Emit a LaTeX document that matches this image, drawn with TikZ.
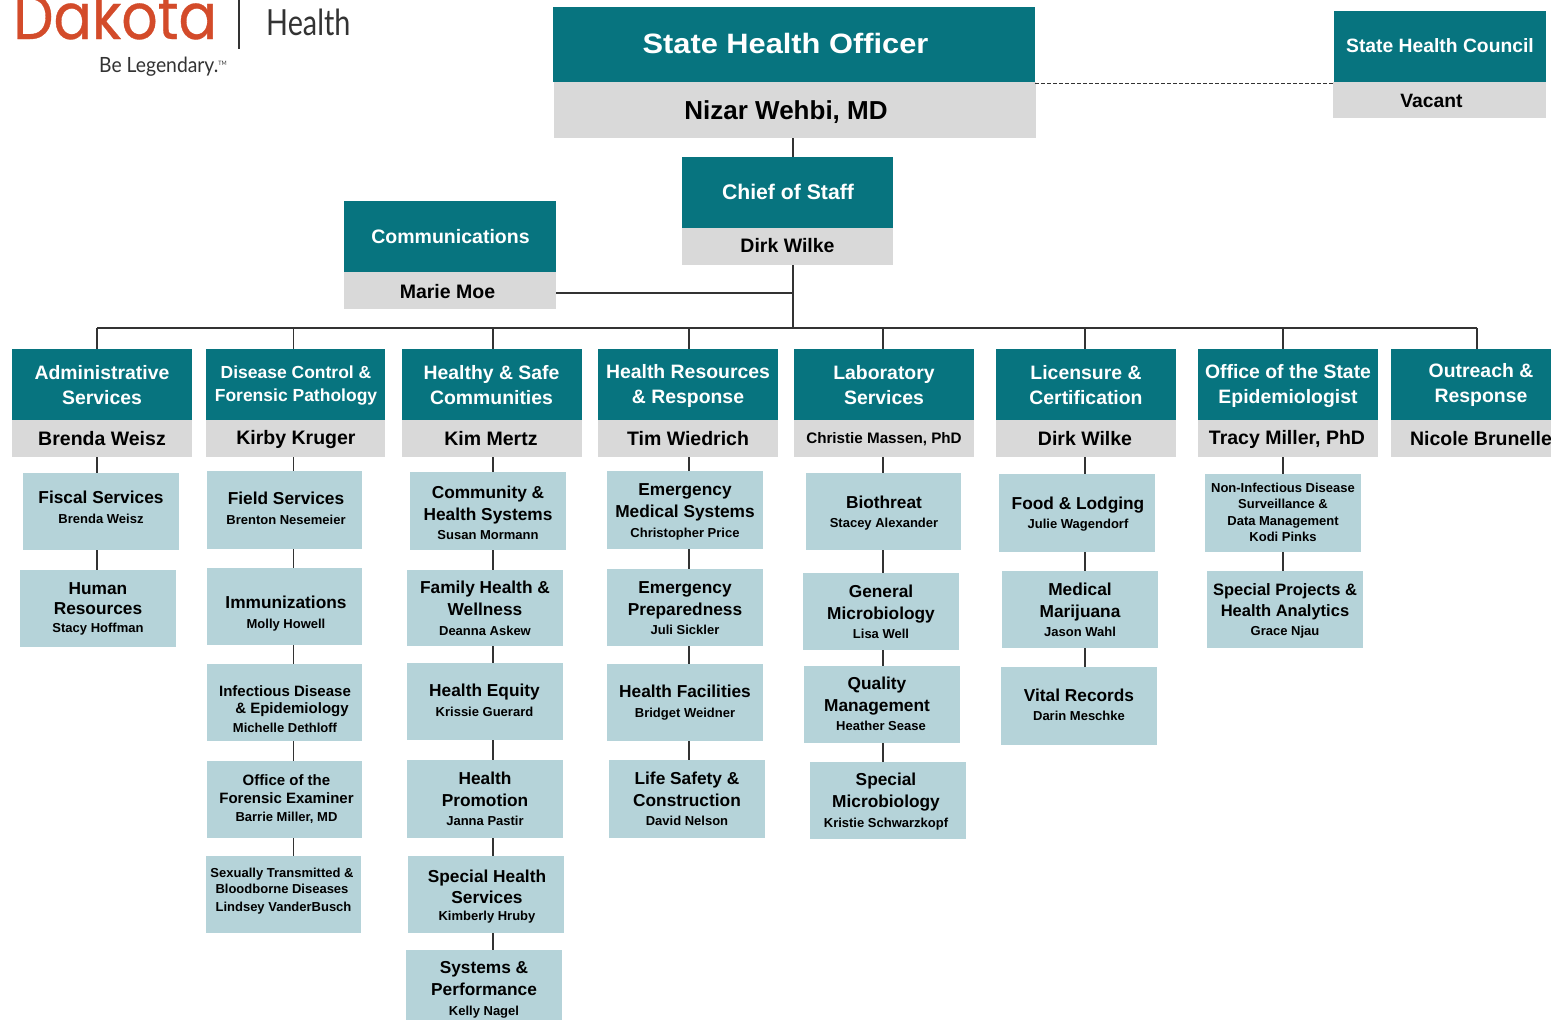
\documentclass[tikz,border=0pt]{standalone}
\usepackage{fontspec}
\usetikzlibrary{fit}
\setmainfont{Liberation Sans}
\newfontfamily\widefont[FakeStretch=1.1]{Liberation Sans}
\newfontfamily\logofont[FakeStretch=0.89,FakeBold=0.5]{Poppins}
\newfontfamily\logothin[FakeStretch=0.8]{Lato}
\newfontfamily\logotag[FakeStretch=0.92]{Lato}
\definecolor{tealhd}{HTML}{07747F}
\definecolor{grayhd}{HTML}{D9D9D9}
\definecolor{lightbx}{HTML}{B5D3D9}
\definecolor{conncol}{HTML}{333333}
\definecolor{dakota}{HTML}{D34B2A}
\newcommand\fz[2]{\fontsize{#1}{#2}\selectfont\spaceskip=0pt\relax}
\newcommand\bx[9]{%
  \node[#8,fit={(#2,#3)(#4,#5)}] (#1) {};
  \node[#8t] (#1t) at (#6,#7) {#9\par};}
\newcommand\vl[3]{%
  \coordinate (cx) at (#3,0);
  \draw[conn] (#1.south -| cx) -- (#2.north -| cx);}
\newcommand\lb{\\\fz{17.3}{22}}
\newcommand\lm{\\\fz{15}{17.5}}
\newcommand\lt{\\\fz{19.4}{25}}
\newcommand\ld{\\\fz{17.5}{23}}
\newcommand\ls{\\\fz{13}{16.5}}
\newcommand\sub[2]{\fz{17.3}{22}#1\\\fz{13}{19.5}#2}
\newcommand\subm[2]{\fz{15}{17.5}#1\\\fz{13}{18.5}#2}
\newcommand\tl[1]{\fz{19.4}{25}#1}
\newcommand\nm[1]{\fz{19.5}{22}#1}
\tikzset{
  tealb/.style={fill=tealhd,draw=none,inner sep=0pt,outer sep=0pt},
  grayb/.style={fill=grayhd,draw=none,inner sep=0pt,outer sep=0pt},
  lightb/.style={fill=lightbx,draw=none,inner sep=0pt,outer sep=0pt},
  tealbt/.style={text=white,font=\bfseries,align=flush center,inner sep=0pt,text width=320pt},
  graybt/.style={text=black,font=\bfseries,align=flush center,inner sep=0pt,text width=320pt},
  lightbt/.style={text=black,font=\bfseries,align=flush center,inner sep=0pt,text width=320pt},
  conn/.style={draw=conncol,line width=1.2pt},
  dashconn/.style={draw=conncol,line width=1.1pt,dash pattern=on 4pt off 2pt},
  logotext/.style={inner sep=0pt,anchor=base west}
}
\begin{document}
\begin{tikzpicture}[x=1pt,y=-1pt]
\useasboundingbox (0,0) rectangle (1551,1020);
\clip (0,0) rectangle (1551,1020);
% logo
\node[logotext,text=dakota] (logoa) at (13,39) {\logofont\fz{64}{64}Dakota};
\coordinate (logotop) at (239,0);
\coordinate (logobot) at (239,49);
\draw[draw=conncol,line width=1.4pt] (logotop) -- (logobot);
\node[logotext,text=conncol] (logob) at (266,35) {\logothin\fz{36}{36}Health};
\node[logotext,text=conncol] (logoc) at (99,72) {\logotag\fz{21}{21}Be Legendary.\raisebox{7pt}{\fz{6}{6}TM}};
% top
\bx{sho}{553}{7}{1035}{82}{785.5}{43}{tealb}{\widefont\fz{28}{30}State Health Officer}
\bx{shon}{554}{82}{1036}{138}{786}{112}{grayb}{\fz{26}{28}Nizar Wehbi, MD}
\bx{shc}{1333.5}{11}{1546}{82}{1440}{46}{tealb}{\fz{19.3}{22}State Health Council}
\bx{shcn}{1333}{82}{1546}{118}{1431.5}{100.5}{grayb}{\fz{19.3}{22}Vacant}
\bx{cos}{682}{157}{893}{228}{788}{192}{tealb}{\fz{21.2}{24}Chief of Staff}
\bx{cosn}{682}{228}{893}{265}{787.5}{246}{grayb}{\nm{Dirk Wilke}}
\bx{com}{344}{201}{556}{272}{450.5}{237}{tealb}{\fz{19.5}{24}Communications}
\bx{comn}{344}{272}{556}{309}{447.5}{291.5}{grayb}{\nm{Marie Moe}}
% heads
\bx{h1}{12}{349}{192}{420}{102}{385.5}{tealb}{\tl{Administrative\lt Services}}
\bx{h1n}{12}{420}{192}{457}{102}{438.5}{grayb}{\nm{Brenda Weisz}}
\bx{h2}{206}{349}{385}{420}{296}{385.5}{tealb}{\fz{17.5}{23}Disease Control \&\ld Forensic Pathology}
\bx{h2n}{206}{420}{385}{457}{296}{439.5}{grayb}{\nm{Kirby Kruger}}
\bx{h3}{402}{349}{582}{420}{491.5}{385}{tealb}{\tl{Healthy \& Safe\lt Communities}}
\bx{h3n}{402}{420}{582}{457}{491}{438.5}{grayb}{\nm{Kim Mertz}}
\bx{h4}{598}{349}{778}{420}{688}{386}{tealb}{\tl{Health Resources\lt \& Response}}
\bx{h4n}{598}{420}{778}{457}{688}{438.5}{grayb}{\nm{Tim Wiedrich}}
\bx{h5}{794}{349}{974}{420}{884}{385}{tealb}{\tl{Laboratory\lt Services}}
\bx{h5n}{794}{420}{974}{457}{884}{439.5}{grayb}{\fz{15.2}{18}Christie Massen, PhD}
\bx{h6}{996}{349}{1176}{420}{1086}{385.5}{tealb}{\tl{Licensure \&\lt Certification}}
\bx{h6n}{996}{420}{1176}{457}{1085}{438.5}{grayb}{\nm{Dirk Wilke}}
\bx{h7}{1198}{349}{1378}{420}{1288}{386}{tealb}{\tl{Office of the State\lt Epidemiologist}}
\bx{h7n}{1198}{420}{1378}{457}{1287}{439.5}{grayb}{\nm{Tracy Miller, PhD}}
\bx{h8}{1391}{349}{1551}{420}{1481}{385}{tealb}{\tl{Outreach \&\lt Response}}
\bx{h8n}{1391}{420}{1551}{457}{1481}{438.5}{grayb}{\nm{Nicole Brunelle}}
% col 1
\bx{a1}{23}{473}{179}{550}{101}{507.5}{lightb}{\sub{Fiscal Services}{Brenda Weisz}}
\bx{a2}{20}{570}{176}{647}{98}{609}{lightb}{\fz{17.3}{20}Human\\\fz{17.3}{20}Resources\\\fz{13}{17.5}Stacy Hoffman}
% col 2
\bx{b1}{207}{471}{362}{549}{286}{508.5}{lightb}{\sub{Field Services}{Brenton Nesemeier}}
\bx{b2}{207}{568}{362}{645}{286}{613.5}{lightb}{\sub{Immunizations}{Molly Howell}}
\bx{b3}{207}{664}{362}{741}{285}{709}{lightb}{\subm{Infectious Disease\lm\hspace*{14pt}\& Epidemiology}{Michelle Dethloff}}
\bx{b4}{207}{761}{362}{838}{286.5}{799.5}{lightb}{\subm{Office of the\lm Forensic Examiner}{Barrie Miller, MD}}
\bx{b5}{206}{856}{361}{933}{282}{891.5}{lightb}{\fz{13}{16}Sexually Transmitted \&\\\fz{13}{16}Bloodborne Diseases\\\fz{13}{18}\hspace*{3pt}Lindsey VanderBusch}
% col 3
\bx{c1}{410}{472}{566}{550}{488}{513}{lightb}{\sub{Community \&\lb Health Systems}{Susan Mormann}}
\bx{c2}{407}{570}{563}{646}{485}{608.5}{lightb}{\sub{Family Health \&\lb Wellness}{Deanna Askew}}
\bx{c3}{407}{663}{563}{740}{484.5}{700.5}{lightb}{\sub{Health Equity}{Krissie Guerard}}
\bx{c4}{407}{760}{563}{838}{485}{799}{lightb}{\sub{Health\lb Promotion}{Janna Pastir}}
\bx{c5}{408}{856}{564}{933}{487}{896.5}{lightb}{\fz{17.3}{21}Special Health\\\fz{17.3}{21}Services\\\fz{13}{17.5}Kimberly Hruby}
\bx{c6}{406}{950}{562}{1020}{484}{990}{lightb}{\sub{Systems \&\lb Performance}{Kelly Nagel}}
% col 4
\bx{d1}{607}{471}{763}{549}{685}{512}{lightb}{\sub{Emergency\lb Medical Systems}{Christopher Price}}
\bx{d2}{607}{569}{763}{646}{685}{608}{lightb}{\sub{Emergency\lb Preparedness}{Juli Sickler}}
\bx{d3}{607}{664}{763}{741}{685}{702.5}{lightb}{\sub{Health Facilities}{Bridget Weidner}}
\bx{d4}{609}{760}{765}{838}{687}{799}{lightb}{\sub{Life Safety \&\lb Construction}{David Nelson}}
% col 5
\bx{e1}{806}{473}{961}{550}{884}{513}{lightb}{\sub{Biothreat}{Stacey Alexander}}
\bx{e2}{803}{573}{959}{650}{881}{612}{lightb}{\sub{General\lb Microbiology}{Lisa Well}}
\bx{e3}{804}{666}{960}{743}{877}{704}{lightb}{\sub{Quality\lb Management}{\hspace*{8pt}Heather Sease}}
\bx{e4}{810}{762}{966}{839}{886}{801.5}{lightb}{\sub{Special\lb Microbiology}{Kristie Schwarzkopf}}
% col 6
\bx{f1}{999}{474}{1155}{552}{1078}{514}{lightb}{\sub{Food \& Lodging}{Julie Wagendorf}}
\bx{f2}{1002}{571}{1158}{648}{1080}{610}{lightb}{\sub{Medical\lb Marijuana}{Jason Wahl}}
\bx{f3}{1001}{667}{1157}{745}{1079}{705}{lightb}{\sub{Vital Records}{Darin Meschke}}
% col 7
\bx{g1}{1205}{474}{1361}{552}{1283}{512.5}{lightb}{\fz{13}{16.5}Non-Infectious Disease\ls Surveillance \&\ls Data Management\ls Kodi Pinks}
\bx{g2}{1207}{571}{1363}{648}{1285}{611}{lightb}{\fz{16.5}{21}Special Projects \&\\\fz{16.5}{21}Health Analytics\\\fz{13}{19}Grace Njau}
% connectors
\draw[dashconn] ([yshift=-1.5pt]sho.south east) -- ([yshift=-1.5pt]shc.south west);
\vl{shon}{cos}{793}
\coordinate (busj) at (793,328);
\coordinate (cx) at (793,0);
\draw[conn] (cosn.south -| cx) -- (busj);
\coordinate (comc) at (556,293);
\draw[conn] (comc) -- (comc -| busj);
\coordinate (busl) at (97,328);
\coordinate (busr) at (1477,328);
\draw[conn] (busl) -- (busr);
\foreach \hh/\xx in {h1/97,h2/293.5,h3/493,h4/689,h5/883,h6/1085,h7/1283,h8/1477}{
  \coordinate (cx) at (\xx,0);
  \draw[conn] (busl -| cx) -- (\hh.north -| cx);
}
\vl{h1n}{a1}{97}\vl{a1}{a2}{97}
\vl{h2n}{b1}{293.5}\vl{b1}{b2}{293.5}\vl{b2}{b3}{293.5}\vl{b3}{b4}{293.5}\vl{b4}{b5}{293.5}
\vl{h3n}{c1}{493}\vl{c1}{c2}{493}\vl{c2}{c3}{493}\vl{c3}{c4}{493}\vl{c4}{c5}{493}\vl{c5}{c6}{493}
\vl{h4n}{d1}{689}\vl{d1}{d2}{689}\vl{d2}{d3}{689}\vl{d3}{d4}{689}
\vl{h5n}{e1}{883}\vl{e1}{e2}{883}\vl{e2}{e3}{883}\vl{e3}{e4}{883}
\vl{h6n}{f1}{1085}\vl{f1}{f2}{1085}\vl{f2}{f3}{1085}
\vl{h7n}{g1}{1283}\vl{g1}{g2}{1283}
\end{tikzpicture}
\end{document}
